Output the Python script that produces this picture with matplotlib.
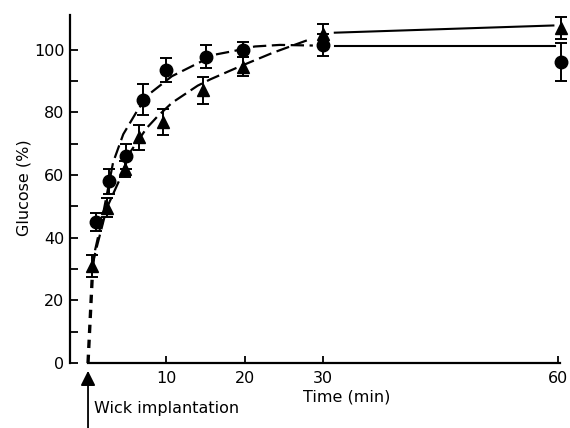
import matplotlib
matplotlib.use('Agg')
import matplotlib.pyplot as plt

# measured points (time in min, glucose in %)
t_circ = [1.0, 2.7, 4.9, 7.0, 10.0, 15.0, 19.8, 30.0, 60.4]
g_circ = [45.0, 58.0, 66.0, 84.0, 93.5, 97.8, 100.0, 101.6, 96.0]
e_circ = [3.0, 4.0, 4.0, 5.0, 3.8, 3.7, 2.5, 3.5, 6.0]

t_tri = [0.5, 2.4, 4.7, 6.5, 9.6, 14.7, 19.8, 30.0, 60.4]
g_tri = [31.0, 49.5, 62.0, 72.0, 77.0, 87.0, 94.5, 105.0, 107.0]
e_tri = [3.5, 3.0, 2.5, 4.0, 4.2, 4.2, 3.0, 3.3, 3.5]

# fitted curves as drawn
fit_circ_t = [0.6, 0.9, 1.8, 3.2, 4.5, 6.4, 7.9, 10.7, 14.3, 16.2, 18.5, 21.3, 24.5, 28.7]
fit_circ_g = [30.0, 36.0, 46.0, 64.0, 73.0, 81.0, 86.0, 91.5, 96.0, 98.4, 99.5, 101.0, 101.5, 101.3]
fit_tri_t = [0.5, 2.4, 4.3, 5.3, 7.5, 8.8, 10.7, 14.0, 15.6, 18.8, 20.7, 23.6, 28.0]
fit_tri_g = [31.0, 49.5, 60.0, 67.0, 75.0, 78.5, 83.0, 88.5, 90.5, 94.0, 96.0, 99.0, 103.0]
start_t = [0.0, 0.55]
start_g = [0.0, 28.0]
late_circ_t = [31.5, 59.6]
late_circ_g = [101.3, 101.3]
late_tri_t = [31.5, 59.4]
late_tri_g = [105.4, 107.7]

fig = plt.figure(figsize=(5.7, 4.28), dpi=100)
ax = fig.add_axes([70/570, 65/428, 492/570, 351/428])
ax.set_xlim(-2.3, 60.5)
ax.set_ylim(0, 112)

ax.plot(start_t, start_g, color='black', lw=2.4, dashes=(2.5, 2))
ax.plot(fit_circ_t, fit_circ_g, color='black', lw=1.6, dashes=(6, 2.5))
ax.plot(fit_tri_t, fit_tri_g, color='black', lw=1.6, dashes=(6, 2.5))
ax.plot(late_circ_t, late_circ_g, color='black', lw=1.5)
ax.plot(late_tri_t, late_tri_g, color='black', lw=1.5)

ax.errorbar(t_tri, g_tri, yerr=e_tri, fmt='^', color='black', ms=9,
            capsize=4, elinewidth=1.4, capthick=1.4, clip_on=False)
ax.errorbar(t_circ, g_circ, yerr=e_circ, fmt='o', color='black', ms=9,
            capsize=4, elinewidth=1.4, capthick=1.4, clip_on=False)

for s in ['top', 'right']:
    ax.spines[s].set_visible(False)
ax.spines['bottom'].set_bounds(0, 60.3)
ax.spines['left'].set_bounds(0, 111)
ax.spines['left'].set_linewidth(1.6)
ax.spines['bottom'].set_linewidth(1.6)

ax.set_yticks([0, 20, 40, 60, 80, 100])
ax.set_yticks([10, 30, 50, 70, 90], minor=True)
ax.set_xticks([10, 20, 30, 60])
ax.tick_params(direction='in', length=6, width=1.3, labelsize=11.5, pad=4)
ax.tick_params(which='minor', direction='in', length=6, width=1.3)
ax.tick_params(axis='x', length=5, pad=6)

ax.set_ylabel('Glucose (%)', fontsize=11.5, labelpad=2)
ax.text(33, -11, 'Time (min)', fontsize=11.5, ha='center', va='center')

ax.annotate('', xy=(0, -2.5), xytext=(0, -21), annotation_clip=False,
            arrowprops=dict(arrowstyle='-|>', color='black', lw=1.3,
                            mutation_scale=22, shrinkA=0, shrinkB=0))
ax.text(0.7, -14.5, 'Wick implantation', fontsize=11.5, ha='left', va='center')

plt.savefig('out.png', dpi=100)
plt.close(fig)
